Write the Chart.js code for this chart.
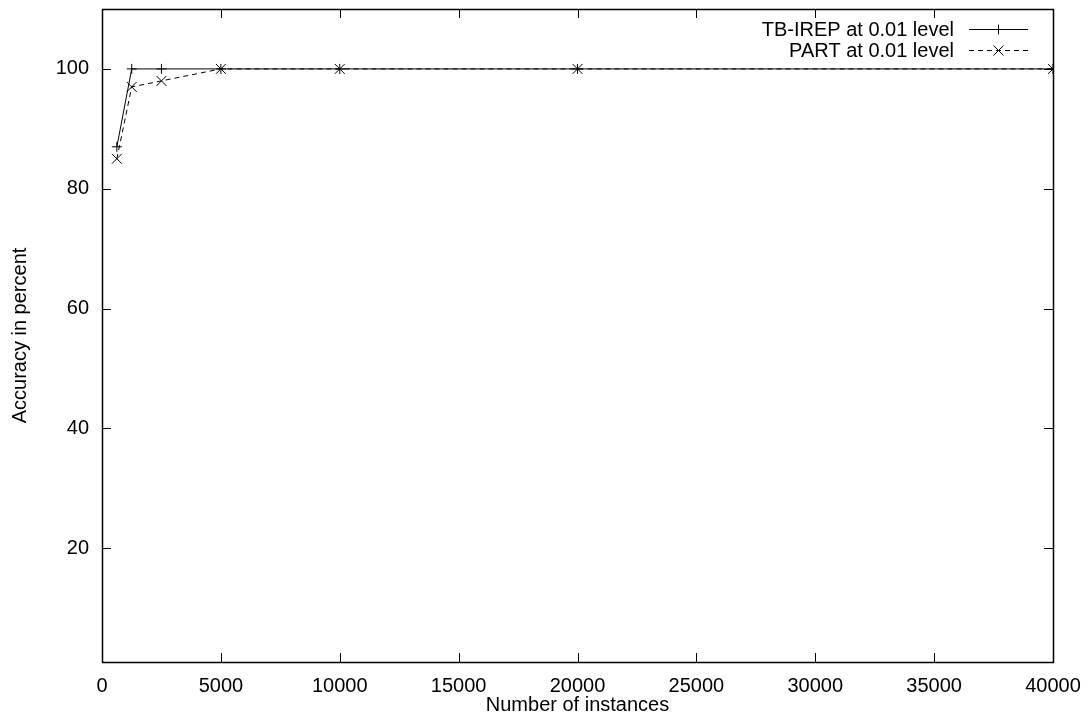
<!DOCTYPE html>
<html>
<head>
<meta charset="utf-8">
<script src="https://cdn.jsdelivr.net/npm/chart.js@4"></script>
<style>
  html, body { margin:0; padding:0; background:#fff; }
  canvas { display:block; }
</style>
</head>
<body>
<canvas id="chart" width="1090" height="717"></canvas>
<script>
const instances = [625, 1250, 2500, 5000, 10000, 20000, 40000];
const tbIrep = [87, 100, 100, 100, 100, 100, 100];
const part = [85, 97, 98, 100, 100, 100, 100];
const yTicks = [20, 40, 60, 80, 100];
const seriesNames = ['TB-IREP at 0.01 level', 'PART at 0.01 level'];

const FONT = 'Liberation Sans, Arial, Helvetica, sans-serif';
const FS = 20;

// gnuplot-like frame: box round the plot, ticks pointing inward on all sides
const framePlugin = {
  id:'frame',
  afterDatasetsDraw(chart){
    const {ctx, chartArea:a, scales:{x, y}} = chart;
    const tl = 9;
    ctx.save();
    ctx.strokeStyle = '#000';
    ctx.lineWidth = 1;
    ctx.beginPath();
    x.ticks.forEach(t => {
      const px = Math.round(x.getPixelForValue(t.value)) + 0.5;
      if (px <= a.left + 1 || px >= a.right - 1) return;
      ctx.moveTo(px, a.bottom); ctx.lineTo(px, a.bottom - tl);
      ctx.moveTo(px, a.top); ctx.lineTo(px, a.top + tl);
    });
    y.ticks.forEach(t => {
      const py = Math.round(y.getPixelForValue(t.value)) + 0.5;
      ctx.moveTo(a.left, py); ctx.lineTo(a.left + tl, py);
      ctx.moveTo(a.right, py); ctx.lineTo(a.right - tl, py);
    });
    ctx.stroke();
    ctx.lineWidth = 1.5;
    ctx.strokeRect(Math.round(a.left)+0.5, Math.round(a.top)+0.5,
                   Math.round(a.right-a.left), Math.round(a.bottom-a.top));
    ctx.restore();
  }
};

// key in the top right corner, text left of the sample like gnuplot
const keyPlugin = {
  id:'key',
  afterDraw(chart){
    const {ctx, chartArea:a} = chart;
    const textRight = a.right - 99;
    const x0 = a.right - 84, x1 = a.right - 25;
    const rows = [a.top + 20, a.top + 41];
    ctx.save();
    ctx.font = `${FS}px ${FONT}`;
    ctx.fillStyle = '#000';
    ctx.textAlign = 'right';
    ctx.textBaseline = 'middle';
    chart.data.datasets.forEach((ds, i) => {
      const yy = rows[i] + 0.5;
      ctx.fillText(ds.label, textRight, rows[i] + 1);
      ctx.strokeStyle = ds.borderColor;
      ctx.lineWidth = 1;
      ctx.setLineDash(ds.borderDash || []);
      ctx.beginPath(); ctx.moveTo(x0, yy); ctx.lineTo(x1, yy); ctx.stroke();
      ctx.setLineDash([]);
      const cx = (x0 + x1) / 2, r = 5;
      ctx.beginPath();
      if (ds.pointStyle === 'cross') {
        ctx.moveTo(cx - r, yy); ctx.lineTo(cx + r, yy);
        ctx.moveTo(cx, yy - r); ctx.lineTo(cx, yy + r);
      } else {
        ctx.moveTo(cx - r, yy - r); ctx.lineTo(cx + r, yy + r);
        ctx.moveTo(cx + r, yy - r); ctx.lineTo(cx - r, yy + r);
      }
      ctx.stroke();
    });
    ctx.restore();
  }
};

const ctx = document.getElementById('chart').getContext('2d');
new Chart(ctx, {
  type:'line',
  data:{
    datasets:[
      { label:seriesNames[0], data:instances.map((v,i)=>({x:v, y:tbIrep[i]})),
        borderColor:'#000', borderWidth:1, pointStyle:'cross', pointRadius:5,
        pointBorderColor:'#000', pointBorderWidth:1, fill:false, tension:0 },
      { label:seriesNames[1], data:instances.map((v,i)=>({x:v, y:part[i]})),
        borderColor:'#000', borderWidth:1, borderDash:[5,4], pointStyle:'crossRot', pointRadius:7,
        pointBorderColor:'#000', pointBorderWidth:1, fill:false, tension:0 }
    ]
  },
  options:{
    responsive:false,
    animation:false,
    layout:{ padding:{ top:9, right:37, left:0, bottom:0 } },
    plugins:{ legend:{display:false}, tooltip:{enabled:false} },
    scales:{
      x:{
        type:'linear', min:0, max:40000,
        ticks:{ stepSize:5000, color:'#000', padding:4, maxRotation:0,
                font:{family:FONT, size:FS}, callback:v => String(v) },
        grid:{ display:false }, border:{ display:false },
        title:{ display:true, text:'Number of instances', color:'#000',
                font:{family:FONT, size:FS, lineHeight:1.2}, padding:{top:0, bottom:0} },
        afterFit(s){ s.height = 55; s.paddingLeft = 0; s.paddingRight = 0; }
      },
      y:{
        type:'linear', min:1, max:110,
        afterBuildTicks(s){ s.ticks = yTicks.map(v=>({value:v})); },
        ticks:{ color:'#000', padding:5, font:{family:FONT, size:FS} },
        grid:{ display:false }, border:{ display:false },
        title:{ display:true, text:'Accuracy in percent', color:'#000',
                font:{family:FONT, size:FS, lineHeight:1.2}, padding:{top:8, bottom:0} },
        afterFit(s){ s.width = 102; s.paddingTop = 0; s.paddingBottom = 0; }
      }
    }
  },
  plugins:[framePlugin, keyPlugin]
});
</script>
</body>
</html>
